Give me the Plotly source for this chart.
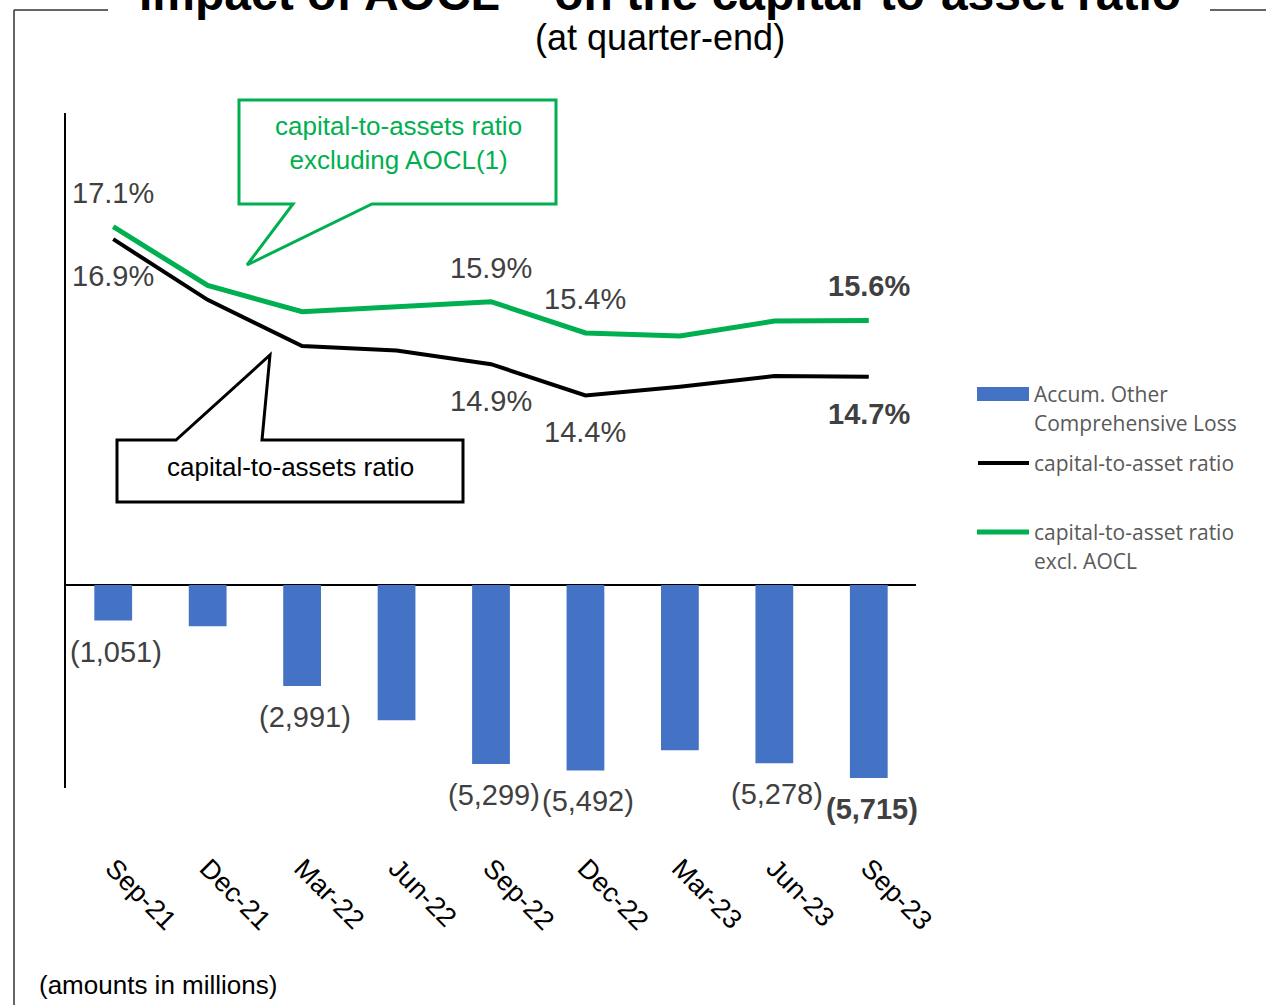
import plotly.graph_objects as go

# ---- data -------------------------------------------------------------
quarters = ["Sep-21", "Dec-21", "Mar-22", "Jun-22", "Sep-22",
            "Dec-22", "Mar-23", "Jun-23", "Sep-23"]
aocl = [-1051, -1220, -2991, -4005, -5299, -5492, -4890, -5278, -5715]
ratio = [16.9, 15.93, 15.19, 15.12, 14.9, 14.4, 14.54, 14.71, 14.7]
ratio_ex_aocl = [17.1, 16.16, 15.74, 15.82, 15.9, 15.4, 15.35, 15.59, 15.6]

# which points carry value labels
ratio_labelled = [0, 4, 5, 8]
aocl_labelled = [0, 2, 4, 5, 7, 8]
bold_idx = 8

BLUE = "#4472C4"
GREEN = "#00B050"
LABEL = "#404040"
FONT = "Arial, Liberation Sans, sans-serif"

W, H = 1266, 1005
L, R, T, B = 66, 916, 113, 788   # plot area in pixels


def px(x):
    return (x - L) / (R - L)


def py(y):
    return (B - y) / (B - T)


fig = go.Figure()

fig.add_trace(go.Bar(
    x=quarters, y=aocl, marker=dict(color=BLUE, line=dict(width=0)),
    width=0.4, name="Accum. Other Comprehensive Loss", yaxis="y",
))
fig.add_trace(go.Scatter(
    x=quarters, y=ratio, mode="lines", yaxis="y2",
    line=dict(color="black", width=4), name="capital-to-asset ratio",
))
fig.add_trace(go.Scatter(
    x=quarters, y=ratio_ex_aocl, mode="lines", yaxis="y2",
    line=dict(color=GREEN, width=5), name="capital-to-asset ratio excl. AOCL",
))

annotations = []


def fmt_pct(v):
    return f"{v:.1f}%"


def fmt_neg(v):
    return f"({abs(v):,})"


for i in ratio_labelled:
    b = i == bold_idx
    annotations.append(dict(
        x=quarters[i], y=ratio_ex_aocl[i], xref="x", yref="y2",
        text=("<b>%s</b>" if b else "%s") % fmt_pct(ratio_ex_aocl[i]),
        showarrow=False, yshift=34, font=dict(size=29, color=LABEL, family=FONT)))
    annotations.append(dict(
        x=quarters[i], y=ratio[i], xref="x", yref="y2",
        text=("<b>%s</b>" if b else "%s") % fmt_pct(ratio[i]),
        showarrow=False, yshift=-37, font=dict(size=29, color=LABEL, family=FONT)))

for i in aocl_labelled:
    b = i == bold_idx
    annotations.append(dict(
        x=quarters[i], y=aocl[i], xref="x", yref="y",
        text=("<b>%s</b>" if b else "%s") % fmt_neg(aocl[i]),
        showarrow=False, yshift=-31, xshift=3,
        font=dict(size=29, color=LABEL, family=FONT)))

# title (runs off the top of the page) and subtitle
annotations.append(dict(
    x=px(660), y=py(22), xref="paper", yref="paper", xanchor="center", yanchor="bottom",
    text="<b>Impact of AOCL<sup>(1)</sup> on the capital-to-asset ratio</b>",
    showarrow=False, font=dict(size=48, color="black", family=FONT)))
annotations.append(dict(
    x=px(660), y=py(38), xref="paper", yref="paper", xanchor="center", yanchor="middle",
    text="(at quarter-end)", showarrow=False,
    font=dict(size=36, color="black", family=FONT)))

# callout texts
annotations.append(dict(
    x=px(398), y=py(143), xref="paper", yref="paper", xanchor="center", yanchor="middle",
    text="capital-to-assets ratio<br>excluding AOCL(1)", showarrow=False,
    font=dict(size=26, color=GREEN, family=FONT)))
annotations.append(dict(
    x=px(290), y=py(467), xref="paper", yref="paper", xanchor="center", yanchor="middle",
    text="capital-to-assets ratio", showarrow=False,
    font=dict(size=26, color="black", family=FONT)))

# footnote
annotations.append(dict(
    x=px(37), y=py(985), xref="paper", yref="paper", xanchor="left", yanchor="middle",
    text="(amounts in millions)", showarrow=False,
    font=dict(size=26, color="black", family=FONT)))

# legend drawn by hand
LEG_FONT = dict(size=21, color="#595959", family="Open Sans, sans-serif")
for text, yc in [("Accum. Other", 394), ("Comprehensive Loss", 423),
                 ("capital-to-asset ratio", 463),
                 ("capital-to-asset ratio", 532), ("excl. AOCL", 561)]:
    annotations.append(dict(
        x=px(1032), y=py(yc), xref="paper", yref="paper", xanchor="left",
        yanchor="middle", text=text, showarrow=False, font=LEG_FONT))

shapes = []
# legend swatches
shapes.append(dict(type="rect", xref="paper", yref="paper",
                   x0=px(977), x1=px(1029), y0=py(387), y1=py(401),
                   fillcolor=BLUE, line=dict(width=0)))
shapes.append(dict(type="line", xref="paper", yref="paper",
                   x0=px(978), x1=px(1029), y0=py(463), y1=py(463),
                   line=dict(color="black", width=4)))
shapes.append(dict(type="line", xref="paper", yref="paper",
                   x0=px(977), x1=px(1029), y0=py(532), y1=py(532),
                   line=dict(color=GREEN, width=5)))


def poly(points, color, width):
    d = "M " + " L ".join(f"{px(x)},{py(y)}" for x, y in points) + " Z"
    return dict(type="path", xref="paper", yref="paper", path=d,
                line=dict(color=color, width=width), fillcolor="rgba(0,0,0,0)")


# speech-bubble callouts
shapes.append(poly([(239, 100), (556, 100), (556, 204), (372, 204), (247, 265),
                    (293, 204), (239, 204)], GREEN, 3))
shapes.append(poly([(117, 440), (176, 440), (270, 355), (262, 440), (463, 440),
                    (463, 502), (117, 502)], "black", 3))

# page frame
FRAME = dict(color="#333333", width=1.5)
shapes.append(dict(type="line", xref="paper", yref="paper",
                   x0=px(14), x1=px(14), y0=py(10), y1=py(1010), line=FRAME))
shapes.append(dict(type="line", xref="paper", yref="paper",
                   x0=px(14), x1=px(108), y0=py(10), y1=py(10), line=FRAME))
shapes.append(dict(type="line", xref="paper", yref="paper",
                   x0=px(1210), x1=px(1270), y0=py(10), y1=py(10), line=FRAME))

fig.update_layout(
    width=W, height=H, autosize=False,
    margin=dict(l=L, r=W - R, t=T, b=H - B, pad=0),
    paper_bgcolor="white", plot_bgcolor="white",
    showlegend=False,
    font=dict(family=FONT, color="black"),
    xaxis=dict(type="category", range=[-0.5, 8.5], showgrid=False, showline=False,
               zeroline=False, ticks="", tickangle=45, ticklabelstandoff=58,
               tickfont=dict(size=27, color="black", family=FONT)),
    yaxis=dict(range=[-6011, 13977], showgrid=False, showticklabels=False, ticks="",
               showline=True, linecolor="black", linewidth=2,
               zeroline=True, zerolinecolor="black", zerolinewidth=2),
    yaxis2=dict(range=[8.119, 18.919], overlaying="y", side="right", visible=False,
                showgrid=False, zeroline=False),
    annotations=annotations,
    shapes=shapes,
    bargap=0.6,
)

fig.write_html("out.html")
